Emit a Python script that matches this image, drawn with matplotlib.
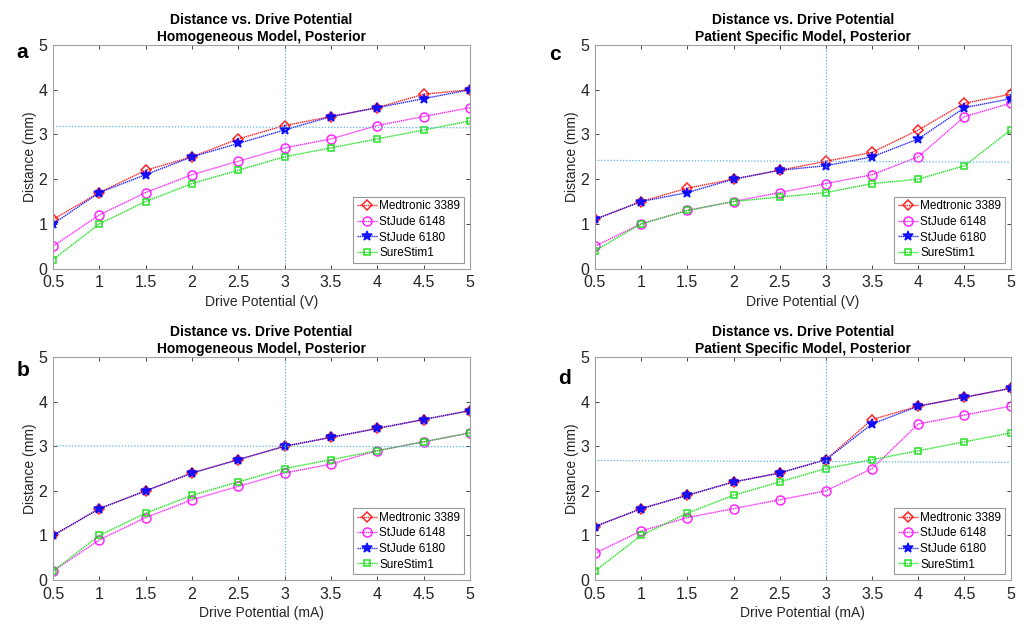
import numpy as np
import matplotlib
matplotlib.use("Agg")
from matplotlib import pyplot as plt

plt.rcParams['font.family'] = ['Liberation Sans', 'DejaVu Sans']

drive = [0.5, 1, 1.5, 2, 2.5, 3, 3.5, 4, 4.5, 5]
lead_names = ["Medtronic 3389", "StJude 6148", "StJude 6180", "SureStim1"]

# a: homogeneous model, voltage
a_med = [1.1, 1.7, 2.2, 2.5, 2.9, 3.2, 3.4, 3.6, 3.9, 4.0]
a_sj48 = [0.5, 1.2, 1.7, 2.1, 2.4, 2.7, 2.9, 3.2, 3.4, 3.6]
a_sj80 = [1.0, 1.7, 2.1, 2.5, 2.8, 3.1, 3.4, 3.6, 3.8, 4.0]
a_sure = [0.2, 1.0, 1.5, 1.9, 2.2, 2.5, 2.7, 2.9, 3.1, 3.3]
a_guide = [3.18, 3.15]

# b: homogeneous model, current
b_med = [1.0, 1.6, 2.0, 2.4, 2.7, 3.0, 3.2, 3.4, 3.6, 3.8]
b_sj48 = [0.2, 0.9, 1.4, 1.8, 2.1, 2.4, 2.6, 2.9, 3.1, 3.3]
b_sj80 = [1.0, 1.6, 2.0, 2.4, 2.7, 3.0, 3.2, 3.4, 3.6, 3.8]
b_sure = [0.2, 1.0, 1.5, 1.9, 2.2, 2.5, 2.7, 2.9, 3.1, 3.3]
b_guide = [3.01, 2.99]

# c: patient specific model, voltage
c_med = [1.1, 1.5, 1.8, 2.0, 2.2, 2.4, 2.6, 3.1, 3.7, 3.9]
c_sj48 = [0.5, 1.0, 1.3, 1.5, 1.7, 1.9, 2.1, 2.5, 3.4, 3.7]
c_sj80 = [1.1, 1.5, 1.7, 2.0, 2.2, 2.3, 2.5, 2.9, 3.6, 3.8]
c_sure = [0.4, 1.0, 1.3, 1.5, 1.6, 1.7, 1.9, 2.0, 2.3, 3.1]
c_guide = [2.42, 2.38]

# d: patient specific model, current
d_med = [1.2, 1.6, 1.9, 2.2, 2.4, 2.7, 3.6, 3.9, 4.1, 4.3]
d_sj48 = [0.6, 1.1, 1.4, 1.6, 1.8, 2.0, 2.5, 3.5, 3.7, 3.9]
d_sj80 = [1.2, 1.6, 1.9, 2.2, 2.4, 2.7, 3.5, 3.9, 4.1, 4.3]
d_sure = [0.2, 1.0, 1.5, 1.9, 2.2, 2.5, 2.7, 2.9, 3.1, 3.3]
d_guide = [2.68, 2.64]

styles = [("#ff0000", "D", "none", 5), ("#ff00ff", "o", "none", 6.5),
          ("#0000ff", "*", "#0000ff", 7.5), ("#00dd00", "s", "none", 5)]
guide_col = "#5ab4e5"


def draw_panel(ax, series, guide, title2, unit, letter, lx, ly):
    for name, vals, (col, mk, fc, ms) in zip(lead_names, series, styles):
        ax.plot(drive, vals, color=col, linestyle=(0, (1, 0.5)), linewidth=1.0,
                marker=mk, markersize=ms, markerfacecolor=fc,
                markeredgecolor=col, markeredgewidth=1.1, label=name, alpha=0.85)
    ax.plot([0.5, 5], guide, color=guide_col, linestyle=(0, (1, 1.5)), linewidth=0.9)
    ax.axvline(3, ymin=0.02, ymax=1.0, color=guide_col, linestyle=(0, (1, 1.5)), linewidth=0.9)
    ax.set_xlim(0.5, 5)
    ax.set_ylim(0, 5)
    ax.set_xticks(drive)
    ax.set_xticklabels(["0.5", "1", "1.5", "2", "2.5", "3", "3.5", "4", "4.5", "5"])
    ax.set_yticks([0, 1, 2, 3, 4, 5])
    ax.tick_params(direction="in", top=True, right=True, length=3, labelsize=11.5,
                   colors="#262626", width=0.6)
    ax.tick_params(axis="x", pad=5)
    ax.tick_params(axis="y", pad=4)
    for sp in ax.spines.values():
        sp.set_color("#a0a0a0")
        sp.set_linewidth(0.8)
    ax.set_title("Distance vs. Drive Potential\n" + title2, fontsize=10,
                 fontweight="bold", pad=3, linespacing=1.25)
    ax.set_xlabel("Drive Potential (%s)" % unit, fontsize=10, color="#262626", labelpad=3)
    ax.set_ylabel("Distance (mm)", fontsize=10, color="#262626", labelpad=1)
    leg = ax.legend(loc="lower right", fontsize=8.5, frameon=True, fancybox=False,
                    borderpad=0.3, labelspacing=0.3, handlelength=1.7,
                    handletextpad=0.2, borderaxespad=0.5)
    leg.get_frame().set_edgecolor("#808080")
    leg.get_frame().set_linewidth(0.8)
    ax.figure.text(lx, ly, letter, fontsize=15, fontweight="bold", ha="left", va="center")


fig = plt.figure(figsize=(10.24, 6.26), dpi=100)
ax_a = fig.add_axes([0.0518, 0.571, 0.407, 0.357])
ax_c = fig.add_axes([0.581, 0.571, 0.406, 0.357])
ax_b = fig.add_axes([0.0518, 0.0735, 0.407, 0.356])
ax_d = fig.add_axes([0.581, 0.0735, 0.406, 0.356])

draw_panel(ax_a, [a_med, a_sj48, a_sj80, a_sure], a_guide,
           "Homogeneous Model, Posterior", "V", "a", 0.016, 1 - 53 / 626)
draw_panel(ax_c, [c_med, c_sj48, c_sj80, c_sure], c_guide,
           "Patient Specific Model, Posterior", "V", "c", 0.536, 1 - 54 / 626)
draw_panel(ax_b, [b_med, b_sj48, b_sj80, b_sure], b_guide,
           "Homogeneous Model, Posterior", "mA", "b", 0.016, 1 - 371 / 626)
draw_panel(ax_d, [d_med, d_sj48, d_sj80, d_sure], d_guide,
           "Patient Specific Model, Posterior", "mA", "d", 0.545, 1 - 378 / 626)

fig.savefig("out.png", dpi=100)
